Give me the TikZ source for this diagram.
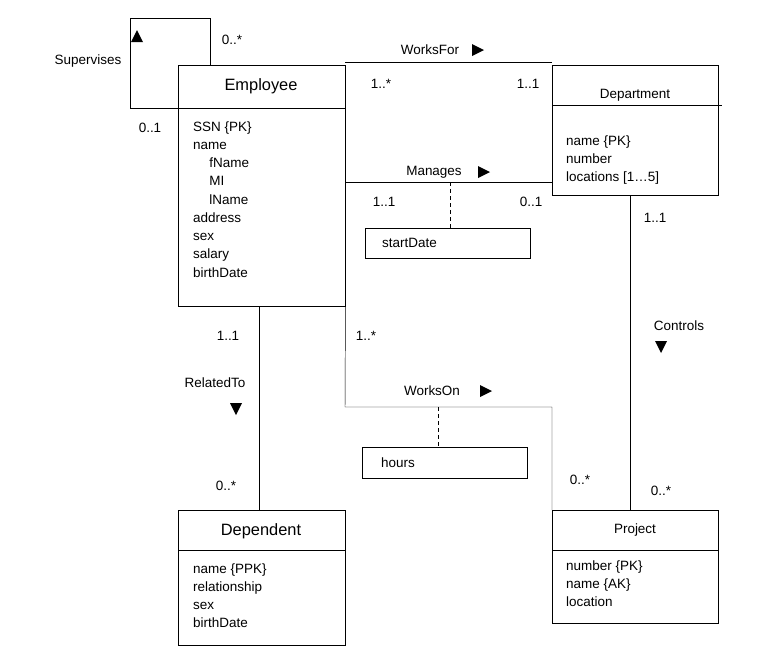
\documentclass[tikz,border=0pt]{standalone}
\usepackage{fontspec}
\setmainfont{Liberation Sans}
\usetikzlibrary{positioning,shapes,arrows}

\begin{document}
\begin{tikzpicture}[x=0.03cm,y=-0.03cm,
  box/.style={draw,rectangle,anchor=north west,inner sep=0pt},
  title/.style={font=\fontsize{14}{16}\selectfont},
  attr/.style={anchor=north west,align=left,inner sep=0pt,font=\fontsize{11.5}{15.6}\selectfont},
  lbl/.style={font=\fontsize{11.5}{14}\selectfont},
  tri/.style={fill=black}]
\useasboundingbox (0,0) rectangle (783,663);

% Classes
\node[box,minimum width=167*0.03cm,minimum height=241*0.03cm] (emp) at (178,65) {};
\draw (178,108) -- (345,108);
\node[title] (empT) at (261,86) {Employee};
\node[attr] (empA) at (193,121) {SSN \{PK\}\\name\\\hspace{1.2em}fName\\\hspace{1.2em}MI\\\hspace{1.2em}lName\\address\\sex\\salary\\birthDate};

\node[box,minimum width=166*0.03cm,minimum height=130*0.03cm] (dept) at (552,65) {};
\draw (552,105) -- (722,105);
\node[lbl] (deptT) at (635,95) {Department};
\node[attr] (deptA) at (566,135) {name \{PK\}\\number\\locations [1\dots5]};

\node[box,minimum width=167*0.03cm,minimum height=135*0.03cm] (dep) at (178,510) {};
\draw (178,550) -- (345,550);
\node[title] (depT) at (261,531) {Dependent};
\node[attr] (depA) at (193,563) {name \{PPK\}\\relationship\\sex\\birthDate};

\node[box,minimum width=166*0.03cm,minimum height=113*0.03cm] (proj) at (552,510) {};
\draw (552,550) -- (718,550);
\node[lbl] (projT) at (635,530) {Project};
\node[attr] (projA) at (566,560) {number \{PK\}\\name \{AK\}\\location};

% Supervises
\coordinate (supA) at (178,108);
\coordinate (supB) at (210,65);
\draw (supA) -- (130,108) -- (130,18) -- (210,18) -- (supB);
\node[lbl] at (232,40) {0..*};
\node[lbl] at (150,128) {0..1};
\node[lbl] at (88,61) {Supervises};
\fill[tri] (131,42) -- (143,42) -- (137,30) -- cycle;

% WorksFor
\coordinate (wfA) at (345,62);
\coordinate (wfB) at (552,62);
\draw (wfA) -- (wfB);
\node[lbl] at (430,50) {WorksFor};
\fill[tri] (472,44) -- (472,56) -- (484,50) -- cycle;
\node[lbl] at (381,84) {1..*};
\node[lbl] at (528,84) {1..1};

% Manages
\coordinate (mgA) at (345,182);
\coordinate (mgB) at (552,182);
\draw (mgA) -- (mgB);
\node[lbl] at (434,172) {Manages};
\fill[tri] (478,166) -- (478,178) -- (490,172) -- cycle;
\node[lbl] at (384,202) {1..1};
\node[lbl] at (531,202) {0..1};
\node[box,minimum width=165*0.03cm,minimum height=30*0.03cm] (start) at (365,228) {};
\node[lbl,anchor=west] at (378,243) {startDate};
\draw[dashed] (450,182) -- (start.north -| 450,0);

% WorksOn
\draw (emp.south east) -- (345,407) -- (552,407) -- (proj.north west);
\node[lbl] at (432,391) {WorksOn};
\fill[tri] (480,385) -- (480,397) -- (492,391) -- cycle;
\node[lbl] at (366,336) {1..*};
\node[lbl] at (580,480) {0..*};
\node[box,minimum width=165*0.03cm,minimum height=31*0.03cm] (hours) at (362,447) {};
\node[lbl,anchor=west] at (377,463) {hours};
\draw[dashed] (438,407) -- (hours.north -| 438,0);

% RelatedTo
\draw (259,306) -- (dep.north -| 259,0);
\node[lbl] at (228,336) {1..1};
\node[lbl] at (215,383) {RelatedTo};
\fill[tri] (230,403) -- (242,403) -- (236,415) -- cycle;
\node[lbl] at (226,486) {0..*};

% Controls
\draw (630,195) -- (proj.north -| 630,0);
\node[lbl] at (655,218) {1..1};
\node[lbl] at (679,326) {Controls};
\fill[tri] (655,341) -- (667,341) -- (661,353) -- cycle;
\node[lbl] at (661,491) {0..*};
\end{tikzpicture}
\end{document}
